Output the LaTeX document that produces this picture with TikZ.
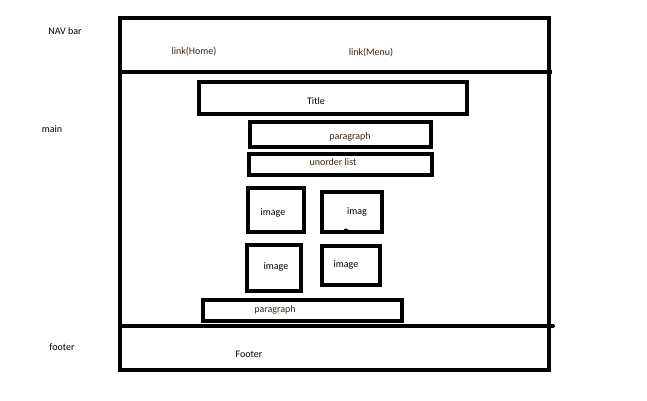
\documentclass[tikz,border=0pt]{standalone}
\usepackage{fontspec}
\setmainfont{Carlito}
\begin{document}
\begin{tikzpicture}[x=1pt,y=-1pt,
  box/.style={draw=black,line width=3.5pt},
  txt/.style={font=\fontsize{10}{12}\selectfont,inner sep=0pt},
  br/.style={txt,text=black!70!brown}]
\useasboundingbox (0,0) rectangle (647,400);
\draw[box] (120,18) rectangle (549,370);
\coordinate (n1) at (120,72); \coordinate (n2) at (552,72);
\draw[box] (n1) -- (n2);
\coordinate (f1) at (120,326); \coordinate (f2) at (553,326);
\draw[box] (f1) -- (f2);
\fill (f2) circle (2pt);
\draw[box] (199,82) rectangle (467,114);
\draw[box] (250,122) rectangle (431,147);
\draw[box] (249,154) rectangle (432,175);
\draw[box] (248,188) rectangle (304,232);
\draw[box] (322,192) rectangle (382,232);
\draw[box] (247,245) rectangle (301,291);
\draw[box] (322,246) rectangle (380,285);
\draw[box] (203,300) rectangle (402,321);
\fill (346,231) circle (2.5pt);
\node[txt] (nav) at (65,31) {NAV bar};
\node[txt] (main) at (52,129) {main};
\node[txt] (foot) at (62,347) {footer};
\node[br] (lh) at (194,52) {link(Home)};
\node[br] (lm) at (371,53) {link(Menu)};
\node[txt] (ti) at (316,101) {Title};
\node[br] (p1) at (350,137) {paragraph};
\node[br] (ul) at (333,162) {unorder list};
\node[txt] (i1) at (273,213) {image};
\node[txt] (i2) at (357,212) {imag};
\node[txt] (i3) at (276,267) {image};
\node[txt] (i4) at (346,265) {image};
\node[br] (p2) at (275,310) {paragraph};
\node[txt] (ft) at (249,354) {Footer};
\end{tikzpicture}
\end{document}
